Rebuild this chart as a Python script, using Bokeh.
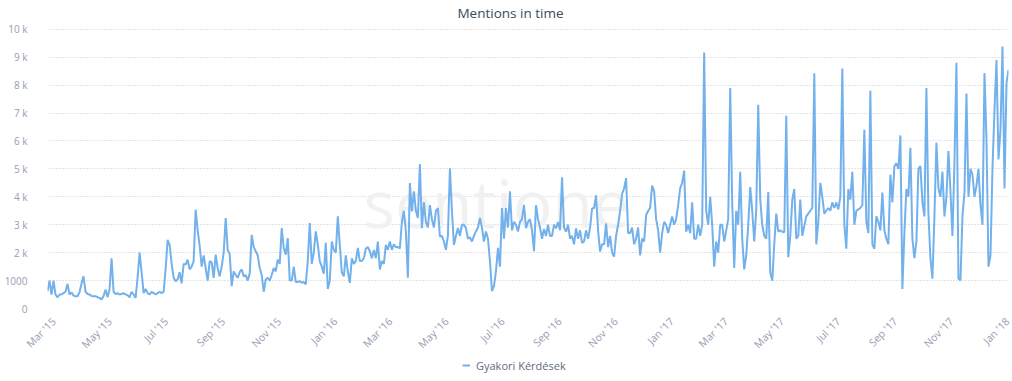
import math
import pandas as pd
from bokeh.plotting import figure
from bokeh.layouts import column
from bokeh.models import (Range1d, FixedTicker, Legend, LegendItem, Label,
                          ColumnDataSource)
from bokeh.embed import file_html
from bokeh.resources import INLINE

# ---------------- data ----------------
title_text = "Mentions in time"
series_name = "Gyakori Kérdések"
first_day = "2015-02-22"
last_day = "2018-01-02"

# mentions per sample, roughly every two days
mentions_2015 = [
    620, 1000, 500, 1000, 500, 400, 500, 500, 550, 600, 880, 500, 580, 460, 440, 440,
    580, 900, 1150, 600, 520, 500, 450, 440, 440, 400, 380, 320, 450, 680, 400, 700,
    1800, 600, 520, 550, 500, 520, 550, 500, 480, 400, 600, 500, 380, 1100, 2000, 1300,
    550, 700, 550, 500, 600, 550, 500, 550, 600, 550, 600, 1400, 2460, 2280, 1600, 1100,
    980, 1040, 1300, 900, 1600, 1570, 1750, 1400, 1500, 1700, 3540, 2800, 2250, 1500, 1900, 1450,
    1000, 1700, 1650, 1100, 1930, 1450, 1150, 1500, 2000, 3240, 2100, 1950, 800, 1330, 1200, 1100,
    1300, 1400, 1150, 1200, 1000, 1250, 2640, 2200, 2050, 1900, 1450, 1200, 600, 1040, 1100, 1000,
    1200, 1450, 1330, 1750, 1600, 2880, 2170, 1930, 2520, 1000,
]
mentions_2016a = [
    1000, 1500, 950, 950, 980, 920, 950, 860, 1700, 3060, 1600, 2000, 2760, 2300, 1700, 1500,
    1250, 2350, 700, 1000, 2400, 2100, 2000, 3300, 2280, 1300, 1150, 1900, 1330, 920, 1800, 1600,
    1700, 2170, 1700, 1700, 1800, 2150, 2200, 2050, 1800, 2100, 1800, 2400, 1400, 1700, 1600, 2280,
    2100, 2400, 2100, 2300, 2200, 2200, 2150, 3100, 3500, 2760, 1100, 4490, 3480, 4200, 3500, 3240,
    5170, 2880, 3800, 3100, 2900, 3700, 3200, 2900, 3500, 3600, 2580, 2600, 2400, 2100, 2600, 5020,
    3500, 2280, 2600, 2880, 2600, 3000, 3000, 2880, 2500, 2550, 2400, 2600, 2760, 2900, 3240, 2900,
    2400, 2760, 2500, 1700, 620, 800, 1330, 2170, 1500, 3600, 2500, 3600, 2900, 4200, 2800, 3100,
    3000, 2760, 3100, 3200, 3710, 2880, 3100, 3200, 2800, 2050,
]
mentions_2016b = [
    3700, 3200, 2900, 2500, 2850, 2600, 3000, 2600, 2600, 3000, 2870, 3100, 2800, 4700, 2900, 2750,
    3000, 2500, 2600, 2300, 2870, 2500, 2800, 2350, 2400, 2800, 2500, 2900, 3580, 3600, 4050, 2800,
    2040, 2300, 2300, 3040, 2200, 2600, 2000, 1860, 2600, 3000, 3500, 4100, 4300, 4670, 2700, 2700,
    2900, 2300, 2500, 2900, 1900, 2500, 2400, 3340, 3500, 3600, 4400, 4200, 3200, 2800, 2000, 2700,
    3100, 3000, 2700, 3000, 3300, 3000, 3200, 3700, 4300, 4500, 4940, 2750, 3000, 2700, 3800, 2500,
    2500, 3000, 2600, 3000, 9170, 3500, 3000, 4000, 3000, 1500, 2400, 2000, 3000, 3000, 2400, 2800,
    3200, 7900, 3800, 1450, 3500, 3000, 4900, 2500, 1400, 1900, 3000, 4350, 3500, 2400, 3500, 7300,
    3900, 3000, 2600, 2500, 4170, 1300, 1000, 2300, 3400, 2750, 2800,
]
mentions_2017 = [
    2750, 2730, 6900, 1840, 2600, 3900, 4280, 2500, 2600, 3900, 2600, 2950, 3300, 3400, 3500, 3600,
    8430, 2300, 3100, 4500, 4000, 3400, 3500, 3600, 3500, 3800, 3600, 3800, 3550, 4000, 8600, 3000,
    2140, 4280, 3900, 4900, 3000, 3500, 3550, 3600, 3700, 6400, 3100, 2700, 7800, 2300, 2140, 3300,
    3100, 2800, 4150, 2800, 2500, 2300, 4800, 3800, 5100, 5200, 5000, 6200, 700, 2700, 4280, 4000,
    5760, 2500, 1800, 2400, 5000, 5100, 3800, 3300, 7900, 3400, 1800, 1070, 3300, 5940, 4300, 4000,
    4900, 3300, 4000, 5640, 4200, 2600, 5200, 8800, 1070, 1000, 3300, 4150, 7700, 4000, 5000, 4800,
    4000, 4400, 5000, 3700, 3000, 8430, 6050, 1500, 1900, 5000, 7100, 8900, 5340, 6400, 9380, 4300,
    8070, 8550,
]
mentions = mentions_2015 + mentions_2016a + mentions_2016b + mentions_2017

x_tick_dates = ["2015-03-01", "2015-05-01", "2015-07-01", "2015-09-01", "2015-11-01",
                "2016-01-01", "2016-03-01", "2016-05-01", "2016-07-01", "2016-09-01",
                "2016-11-01", "2017-01-01", "2017-03-01", "2017-05-01", "2017-07-01",
                "2017-09-01", "2017-11-01", "2018-01-01"]
x_tick_labels = ["Mar '15", "May '15", "Jul '15", "Sep '15", "Nov '15",
                 "Jan '16", "Mar '16", "May '16", "Jul '16", "Sep '16",
                 "Nov '16", "Jan '17", "Mar '17", "May '17", "Jul '17",
                 "Sep '17", "Nov '17", "Jan '18"]
y_tick_values = [0, 1000, 2000, 3000, 4000, 5000, 6000, 7000, 8000, 9000, 10000]
y_tick_labels = ["0", "1000", "2 k", "3 k", "4 k", "5 k", "6 k", "7 k", "8 k", "9 k", "10 k"]

# ---------------- plot ----------------
dates = pd.date_range(first_day, last_day, periods=len(mentions))
src = ColumnDataSource(dict(date=dates, value=mentions))

FONT = "Open Sans"
LABEL_COLOR = "#979db2"
LINE_COLOR = "#72b1ec"
W = 1012
FRAME_H = 310          # frame spans from the top of the page down to the 0 line
TOP_10K = 29           # the 10 k gridline sits 29 px below the top
y_max = 10000 * FRAME_H / (FRAME_H - TOP_10K)

p = figure(width=W, height=358, x_axis_type="datetime",
           x_range=Range1d(pd.Timestamp(first_day), pd.Timestamp(last_day)),
           y_range=Range1d(0, y_max),
           output_backend="svg", toolbar_location=None,
           min_border_left=47, min_border_right=4, min_border_top=0, min_border_bottom=48)
p.outline_line_color = None
p.background_fill_color = "white"
p.border_fill_color = "white"

# title (inside the frame's top strip, above the 10 k line)
p.add_layout(Label(x=463, y=296, x_units="screen", y_units="screen", text=title_text,
                   text_font=FONT, text_font_size="13.5px", text_color="#3b4a5a",
                   text_align="center", text_baseline="alphabetic"))

# watermark (faint, behind the series)
p.add_layout(Label(x=316, y=107, x_units="screen", y_units="screen", text="sentione",
                   text_font=FONT, text_font_size="66px", text_font_style="normal",
                   text_color="#f1f1f1", text_baseline="alphabetic", level="underlay"))

r = p.line("date", "value", source=src, line_color=LINE_COLOR, line_width=2)

# y axis
p.yaxis.ticker = FixedTicker(ticks=y_tick_values)
p.yaxis.major_label_overrides = {v: s for v, s in zip(y_tick_values, y_tick_labels)}
p.yaxis.axis_line_color = None
p.yaxis.major_tick_line_color = None
p.yaxis.minor_tick_line_color = None
p.yaxis.major_tick_out = 0
p.yaxis.major_tick_in = 0
p.yaxis.minor_tick_out = 0
p.yaxis.major_label_standoff = 20
p.yaxis.major_label_text_font = FONT
p.yaxis.major_label_text_font_size = "10px"
p.yaxis.major_label_text_color = LABEL_COLOR

# x axis
x_ms = [pd.Timestamp(d).value / 1e6 for d in x_tick_dates]
p.xaxis.ticker = FixedTicker(ticks=x_ms)
p.xaxis.major_label_overrides = {m: s for m, s in zip(x_ms, x_tick_labels)}
p.xaxis.major_label_orientation = math.pi / 4
p.xaxis.axis_line_color = None
p.xaxis.major_tick_line_color = None
p.xaxis.minor_tick_line_color = None
p.xaxis.major_tick_out = 0
p.xaxis.major_tick_in = 0
p.xaxis.minor_tick_out = 0
p.xaxis.major_label_standoff = 11
p.xaxis.major_label_text_font = FONT
p.xaxis.major_label_text_font_size = "10.5px"
p.xaxis.major_label_text_color = LABEL_COLOR

# grid
p.xgrid.visible = False
p.ygrid.ticker = FixedTicker(ticks=y_tick_values)
p.ygrid.grid_line_color = "#c9c9c9"
p.ygrid.grid_line_dash = "1 2"
p.ygrid.grid_line_width = 1

# legend strip below the chart
leg = figure(width=W, height=23, output_backend="svg", toolbar_location=None,
             x_range=Range1d(0, 1), y_range=Range1d(0, 1),
             x_axis_location=None, y_axis_location=None,
             min_border_left=0, min_border_right=0, min_border_top=0, min_border_bottom=0)
leg.grid.visible = False
leg.outline_line_color = None
leg_r = leg.line(x=[-2, -1], y=[-2, -1], line_color=LINE_COLOR, line_width=2)
legend = Legend(items=[LegendItem(label=series_name, renderers=[leg_r])],
                location=(415, 6), orientation="horizontal",
                glyph_width=8, label_standoff=6, padding=0, margin=0,
                border_line_color=None, background_fill_alpha=0,
                label_text_font=FONT, label_text_font_size="11px",
                label_text_color="#626b7a")
leg.add_layout(legend)

layout = column(p, leg, spacing=0)
open("out.html", "w").write(file_html(layout, INLINE))
